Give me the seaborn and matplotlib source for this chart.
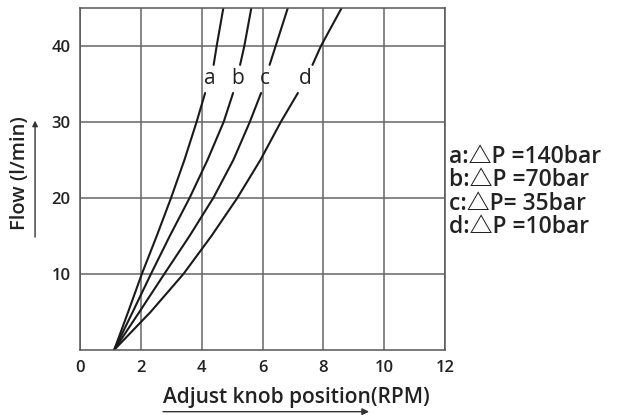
import matplotlib
matplotlib.use("Agg")
import matplotlib.pyplot as plt
import seaborn as sns

# flow values (l/min), lower part below the labels, upper part above
flow_lower = [0, 5, 10, 15, 20, 25, 30, 33.8]
flow_upper = [37.5, 40, 45]

knob_lower = {
    "a": [1.12, 1.58, 2.03, 2.52, 2.99, 3.43, 3.83, 4.11],
    "b": [1.12, 1.73, 2.33, 2.95, 3.6, 4.19, 4.72, 5.03],
    "c": [1.12, 1.95, 2.77, 3.6, 4.38, 5.04, 5.58, 5.95],
    "d": [1.12, 2.32, 3.4, 4.32, 5.17, 5.93, 6.6, 7.16],
}
knob_upper = {
    "a": [4.39, 4.49, 4.71],
    "b": [5.26, 5.4, 5.63],
    "c": [6.23, 6.43, 6.83],
    "d": [7.64, 7.92, 8.6],
}
label_x = {"a": 4.25, "b": 5.19, "c": 6.09, "d": 7.4}
label_y = 35.7

legend_lines = ["a:△P =140bar", "b:△P =70bar", "c:△P= 35bar", "d:△P =10bar"]

x_ticks = [0, 2, 4, 6, 8, 10, 12]
y_ticks = [10, 20, 30, 40]

sns.set_style("white")
plt.rcParams["font.family"] = ["Open Sans", "Noto Sans CJK SC", "DejaVu Sans"]

fig = plt.figure(figsize=(6.26, 4.15), dpi=100)
ax = fig.add_axes([0.128, 0.157, 0.583, 0.824])

for k in knob_lower:
    sns.lineplot(x=knob_lower[k], y=flow_lower, ax=ax, color="#1a1a1a",
                 linewidth=1.5, sort=False, estimator=None)
    sns.lineplot(x=knob_upper[k], y=flow_upper, ax=ax, color="#1a1a1a",
                 linewidth=1.5, sort=False, estimator=None)
    ax.text(label_x[k], label_y, k, ha="center", va="center", fontsize=15,
            color="#222222")

ax.set_xlim(0, 12)
ax.set_ylim(0, 45)
ax.set_xticks(x_ticks)
ax.set_yticks(y_ticks)
ax.tick_params(axis="both", length=0, labelsize=12, colors="#222222", pad=7)
for lbl in ax.get_xticklabels() + ax.get_yticklabels():
    lbl.set_fontweight("semibold")
ax.grid(True, color="#666666", linewidth=1.1)
for s in ax.spines.values():
    s.set_color("#555555")
    s.set_linewidth(1.1)
ax.set_xlabel("")
ax.set_ylabel("")

fig.text(0.474, 0.043, "Adjust knob position(RPM)", ha="center", va="center",
         fontsize=15, color="#222222", fontweight="semibold")
fig.text(0.032, 0.584, "Flow (l/min)", ha="center", va="center", rotation=90,
         fontsize=14.5, color="#222222", fontweight="semibold")

# arrows next to the axis titles
fig.add_artist(matplotlib.patches.FancyArrowPatch((0.256, 0.008), (0.594, 0.008),
               transform=fig.transFigure, arrowstyle="-|>", mutation_scale=10,
               color="#333333", linewidth=1))
fig.add_artist(matplotlib.patches.FancyArrowPatch((0.056, 0.422), (0.056, 0.716),
               transform=fig.transFigure, arrowstyle="-|>", mutation_scale=8,
               color="#333333", linewidth=1))

legend_y = [0.622, 0.566, 0.508, 0.454]
for line, ly in zip(legend_lines, legend_y):
    fig.text(0.718, ly, line, ha="left", va="center",
             fontsize=16.5, color="#222222", fontweight="semibold")

fig.savefig("out.png", dpi=100)
